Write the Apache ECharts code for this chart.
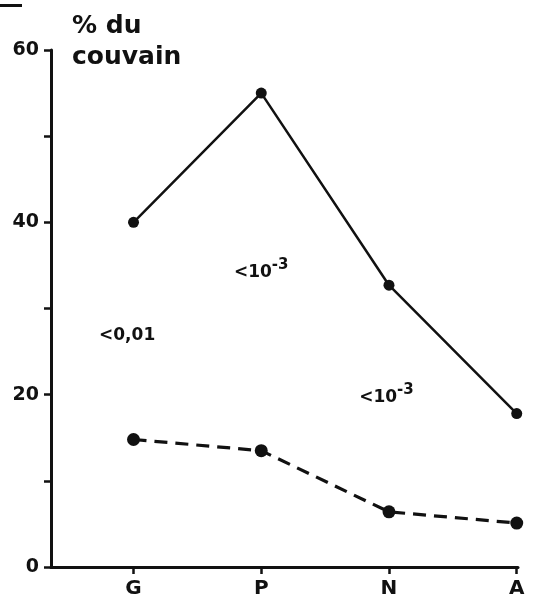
<!DOCTYPE html>
<html>
<head>
<meta charset="utf-8">
<script src="https://cdn.jsdelivr.net/npm/echarts@6/dist/echarts.min.js"></script>
<style>html,body{margin:0;padding:0;background:#fff}#c{width:548px;height:599px}</style>
</head>
<body>
<div id="c"></div>
<script>
var categories = ['G', 'P', 'N', 'A'];
var solidValues = [40, 55, 32.7, 17.8];
var dashedValues = [14.8, 13.5, 6.4, 5.1];
var yTickLabels = [0, 20, 40, 60];
// annotations: [x index, y value, text]
var annotations = [
  [-0.05, 26.9, '<0,01'],
  [1.0, 34.2, '<10{sup|-3}'],
  [1.98, 19.7, '<10{sup|-3}'],
  [3.03, 12.0, '0,02']
];

var chart = echarts.init(document.getElementById('c'));
var font = 'DejaVu Sans';
function pts(vals){ return vals.map(function(v,i){ return [i, v]; }); }

chart.setOption({
  animation: false,
  backgroundColor: '#fff',
  grid: { left: 51, right: 30, top: 50, bottom: 32, containLabel: false },
  title: {
    text: '% du\ncouvain', left: 67, top: 6,
    textStyle: { fontFamily: font, fontSize: 25, fontWeight: 'bold', lineHeight: 31, color: '#111' }
  },
  graphic: [{ type: 'rect', shape: { x: 0, y: 4, width: 22, height: 3 }, style: { fill: '#111' } }],
  xAxis: {
    type: 'value', min: -0.646, max: 3.01,
    splitLine: { show: false },
    axisLine: { onZero: false, lineStyle: { color: '#111', width: 3 } },
    axisTick: { customValues: [0, 1, 2, 3], length: 7, lineStyle: { color: '#111', width: 2.5 } },
    axisLabel: {
      customValues: [0, 1, 2, 3], margin: 12,
      formatter: function(v){ return categories[Math.round(v)] || ''; },
      fontFamily: font, fontSize: 20, fontWeight: 'bold', color: '#111'
    }
  },
  yAxis: {
    type: 'value', min: 0, max: 60, interval: 10,
    splitLine: { show: false },
    axisLine: { show: true, onZero: false, lineStyle: { color: '#111', width: 3 } },
    axisTick: { show: true, length: 7, lineStyle: { color: '#111', width: 2.5 } },
    axisLabel: {
      margin: 12,
      formatter: function(v){ return yTickLabels.indexOf(v) >= 0 ? String(v) : ''; },
      fontFamily: font, fontSize: 19, fontWeight: 'bold', color: '#111'
    }
  },
  series: [
    {
      type: 'line', data: pts(solidValues), symbol: 'circle', symbolSize: 11,
      itemStyle: { color: '#111' }, lineStyle: { color: '#111', width: 2.5 }
    },
    {
      type: 'line', data: pts(dashedValues), symbol: 'circle', symbolSize: 13,
      itemStyle: { color: '#111' }, lineStyle: { color: '#111', width: 3.2, type: [13, 8] }
    },
    {
      type: 'scatter', symbolSize: 0, silent: true,
      itemStyle: { opacity: 1 },
      data: annotations.map(function(a){ return [a[0], a[1]]; }),
      label: {
        show: true, position: 'inside', opacity: 1,
        formatter: function(p){ return annotations[p.dataIndex][2]; },
        fontFamily: font, fontSize: 17, fontWeight: 'bold', color: '#111',
        rich: { sup: { fontFamily: font, fontSize: 15, fontWeight: 'bold', color: '#111', verticalAlign: 'top', padding: [0, 0, 14, 0] } }
      }
    }
  ]
});
</script>
</body>
</html>
